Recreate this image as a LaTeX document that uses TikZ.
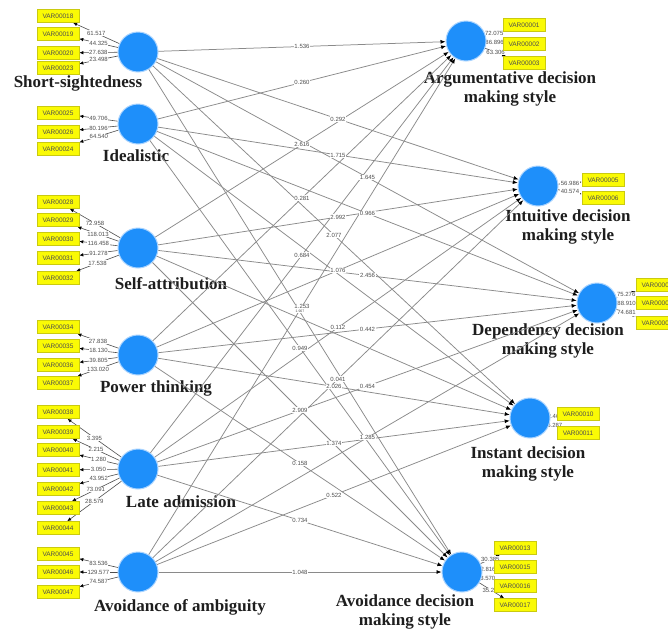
\documentclass[tikz,border=0pt]{standalone}
\usepackage{fontspec}
\setmainfont{Liberation Sans}
\newfontfamily\namefont{Liberation Serif}
\usetikzlibrary{arrows.meta, backgrounds}
\definecolor{lvblue}{HTML}{1E8FFA}
\definecolor{lvrim}{HTML}{A8D3FF}
\definecolor{mvyel}{HTML}{FAFA05}
\definecolor{mvrim}{HTML}{CACA10}
\definecolor{wire}{HTML}{8A8A8A}
\definecolor{ink}{HTML}{1E1E1E}
\definecolor{ink2}{HTML}{4E4E4E}

% one block of indicators: latent node, x of the boxes, list of name/y/loading
\newcommand{\indic}[3]{%
  \foreach \vn/\vy/\vl in {#3}{%
    \node[mv] (m\vn) at (#2,\vy) {VAR000\vn};
    \begin{pgfonlayer}{background}
      \draw[ld] (#1) -- (m\vn) node[coef, midway] {\vl};
    \end{pgfonlayer}
  }}

\begin{document}
\begin{tikzpicture}[x=1pt, y=-1pt,
  lv/.style    ={circle, fill=lvblue, draw=lvrim, line width=1pt, minimum size=40pt, inner sep=0pt},
  mv/.style    ={fill=mvyel, draw=mvrim, line width=0.6pt, minimum width=42pt, minimum height=13pt,
                 inner sep=0pt, font=\fontsize{6.5}{7}\selectfont, text=ink2},
  lvname/.style={font=\namefont\bfseries\fontsize{17}{19}\selectfont, align=center, text=ink},
  rel/.style   ={draw=wire, line width=0.75pt, -{Latex[length=5pt, width=4pt, color=black]}},
  ld/.style    ={draw=ink2, line width=0.6pt, -{Latex[length=4pt, width=3.5pt, color=black]}},
  coef/.style  ={font=\fontsize{6}{7}\selectfont, text=ink2, fill=white, inner sep=0.6pt}
]
\clip (0,0) rectangle (668,635);
\begin{pgfonlayer}{background}
  \fill[white] (0,0) rectangle (668,635);
\end{pgfonlayer}

% exogenous constructs
\node[lv] (shrt)   at (138,52)  {};
\node[lv] (ideal)  at (138,124) {};
\node[lv] (selfat) at (138,248) {};
\node[lv] (power)  at (138,355) {};
\node[lv] (late)   at (138,469) {};
\node[lv] (ambig)  at (138,572) {};
% decision making styles
\node[lv] (argu)  at (466,41)  {};
\node[lv] (intu)  at (538,186) {};
\node[lv] (depe)  at (597,303) {};
\node[lv] (inst)  at (530,418) {};
\node[lv] (avoid) at (462,572) {};

\node[lvname] at (78,83)   {Short-sightedness};
\node[lvname] at (136,156) {Idealistic};
\node[lvname] at (171,284) {Self-attribution};
\node[lvname] at (156,388) {Power thinking};
\node[lvname] at (181,502) {Late admission};
\node[lvname] at (180,607) {Avoidance of ambiguity};
\node[lvname] at (510,89)  {Argumentative decision\\making style};
\node[lvname] at (568,227) {Intuitive decision\\making style};
\node[lvname] at (548,341) {Dependency decision\\making style};
\node[lvname] at (528,464) {Instant decision\\making style};
\node[lvname] at (405,612) {Avoidance decision\\making style};

\def\paths{shrt/argu/1.536, ideal/argu/0.260, selfat/argu/2.616, power/argu/0.281, late/argu/0.684, ambig/argu/1.253,
  shrt/intu/0.292, ideal/intu/1.715, selfat/intu/2.992, power/intu/1.076, late/intu/0.112, ambig/intu/0.041,
  shrt/depe/1.645, ideal/depe/0.966, selfat/depe/2.456, power/depe/0.442, late/depe/0.454, ambig/depe/1.285,
  shrt/inst/2.077, power/inst/2.026, late/inst/1.374, ambig/inst/0.522,
  ideal/avoid/0.949, selfat/avoid/2.909, power/avoid/0.158, late/avoid/0.734, ambig/avoid/1.048}
\foreach \a/\b/\c in \paths {\draw[rel] (\a) -- (\b);}
\draw[rel] (ideal) -- (inst);
\draw[rel] (selfat) -- (inst);
\draw[rel] (shrt) -- (avoid);
\foreach \a/\b/\c in \paths {\path (\a) -- (\b) node[coef, midway] {\c};}
\path (shrt) -- (avoid) node[coef, midway, yshift=1pt, font=\fontsize{3.5}{4}\selectfont] {1.907};

\indic{shrt}{58}{18/16/61.517, 19/34/44.325, 20/53/27.638, 23/68/23.498}
\indic{ideal}{58}{25/113/49.706, 26/132/80.196, 24/149/64.540}
\indic{selfat}{58}{28/202/72.958, 29/220/118.013, 30/239/116.458, 31/258/91.278, 32/278/17.538}
\indic{power}{58}{34/327/27.838, 35/346/18.130, 36/365/39.805, 37/383/133.020}
\indic{late}{58}{38/412/3.395, 39/432/2.215, 40/450/1.280, 41/470/3.050, 42/489/43.952, 43/508/73.091, 44/528/28.579}
\indic{ambig}{58}{45/554/83.536, 46/572/129.577, 47/592/74.587}
\indic{argu}{524}{01/25/72.075, 02/44/86.896, 03/63/63.306}
\indic{intu}{603}{05/180/56.986, 06/198/40.574}
\indic{depe}{657}{07/285/75.276, 08/303/88.910, 09/323/74.681}
\indic{inst}{578}{10/414/42.465, 11/433/36.287}
\indic{avoid}{515}{13/548/30.385, 15/567/2.816, 16/586/3.570, 17/605/35.250}
\end{tikzpicture}
\end{document}
